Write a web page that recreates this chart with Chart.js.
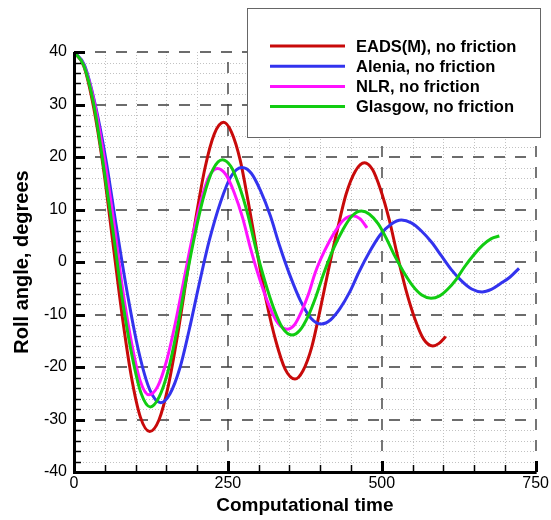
<!DOCTYPE html>
<html>
<head>
<meta charset="utf-8">
<script src="https://cdn.jsdelivr.net/npm/chart.js@4.4.1/dist/chart.umd.min.js"></script>
<style>
  html, body { margin: 0; padding: 0; background: #fff; }
</style>
</head>
<body>
<canvas id="c" width="551" height="520"></canvas>
<script>
// values (time, roll angle in degrees)
const seriesNames = ['EADS(M), no friction', 'Alenia, no friction', 'NLR, no friction', 'Glasgow, no friction'];
const seriesColors = ['#c80a0a', '#3333ee', '#ff11ff', '#11cc11'];

const eadsTime = [0,16,32,47,63,78,93,108,123,138,153,168,183,198,213,228,243,256,270,283,297,312,328,343,359,372,386,399,413,428,442,457,472,485,498,512,525,539,554,568,583,593,604];
const eadsRoll = [40,37.3,29.4,18.5,3.85,-10,-21.7,-29.6,-32.3,-30.1,-23.7,-14.1,-2.85,8.4,18,24.4,26.6,24.7,19.4,11.5,2.15,-7.2,-15.1,-20.4,-22.3,-20.7,-16.3,-9.6,-1.7,6.2,12.9,17.3,18.9,17.6,13.8,8.1,1.45,-5.2,-10.9,-14.7,-16,-15.5,-14.2];

const aleniaTime = [0,17,34,52,69,87,105,123,141,156,172,187,203,220,238,255,273,288,303,319,334,351,368,385,402,417,432,448,463,480,497,515,532,548,564,581,597,613,630,646,663,678,693,708,723];
const aleniaRoll = [40,37.5,30.2,19.4,6.6,-6.2,-17,-24.3,-26.8,-25.1,-20.2,-13,-4.4,4.2,11.4,16.3,18,16.9,13.6,8.8,3.1,-2.6,-7.4,-10.7,-11.8,-11,-8.9,-5.7,-1.9,1.9,5.1,7.2,8,7.45,5.95,3.75,1.15,-1.45,-3.65,-5.15,-5.7,-5.2,-4.1,-2.9,-1.2];

const nlrTime = [0,16,33,49,65,79,94,108,122,136,150,164,178,192,206,219,233,247,260,274,287,302,317,331,346,358,369,381,392,407,423,438,453,465,476];
const nlrRoll = [40,37.5,30.4,19.9,7.35,-5.2,-15.7,-22.8,-25.3,-23.7,-19,-12,-3.75,4.5,11.5,16.2,17.8,16.6,13.3,8.4,2.5,-3.4,-8.3,-11.6,-12.8,-12,-9.6,-6.1,-2,2.1,5.6,8,8.8,8.2,6.5];

const glasgowTime = [0,16,32,47,63,78,94,109,124,138,153,167,181,196,211,226,241,255,268,282,295,310,325,339,354,367,380,393,406,421,437,452,467,480,494,507,520,535,550,565,580,594,607,621,634,649,664,678,691];
const glasgowRoll = [40,37.4,30.1,19.1,6.2,-6.7,-17.7,-25,-27.6,-25.8,-20.7,-13.1,-4.05,5,12.6,17.7,19.5,18.2,14.6,9.2,2.8,-3.6,-9,-12.6,-13.9,-13,-10.4,-6.6,-2.1,2.4,6.2,8.8,9.7,9.1,7.3,4.6,1.4,-1.8,-4.5,-6.3,-6.9,-6.45,-5.2,-3.3,-1,1.3,3.2,4.45,4.95];

const xTicks = [0, 250, 500, 750];
const yTicks = [-40, -30, -20, -10, 0, 10, 20, 30, 40];

const FONT = '"Liberation Sans", Arial, Helvetica, sans-serif';

function pts(t, v){ return t.map((x, i) => ({ x, y: v[i] })); }

// dotted minor grid, dashed major grid, inward ticks, thick axis lines and the boxed legend
const tecplotFrame = {
  id: 'tecplotFrame',
  beforeDatasetsDraw(chart){
    const { ctx, chartArea: a, scales: { x, y } } = chart;
    ctx.save();
    ctx.strokeStyle = '#c2c2c2';
    ctx.lineWidth = 1;
    ctx.setLineDash([1, 2]);
    ctx.beginPath();
    for (let v = 50; v < 750; v += 50){
      if (v % 250 === 0) continue;
      const px = Math.round(x.getPixelForValue(v)) + 0.5;
      ctx.moveTo(px, a.top); ctx.lineTo(px, a.bottom);
    }
    for (let v = -38; v < 40; v += 2){
      if (v % 10 === 0) continue;
      const py = Math.round(y.getPixelForValue(v)) + 0.5;
      ctx.moveTo(a.left, py); ctx.lineTo(a.right, py);
    }
    ctx.stroke();

    ctx.strokeStyle = '#3c3c3c';
    ctx.lineWidth = 1.4;
    ctx.setLineDash([11, 10]);
    ctx.beginPath();
    xTicks.slice(1).forEach(v => {
      const px = Math.round(x.getPixelForValue(v));
      ctx.moveTo(px, a.bottom); ctx.lineTo(px, a.top);
    });
    yTicks.slice(1).forEach(v => {
      const py = Math.round(y.getPixelForValue(v));
      ctx.moveTo(a.left, py); ctx.lineTo(a.right, py);
    });
    ctx.stroke();
    ctx.restore();
  },
  afterDatasetsDraw(chart){
    const { ctx, chartArea: a, scales: { x, y } } = chart;
    ctx.save();
    ctx.setLineDash([]);
    ctx.strokeStyle = '#000';
    // minor ticks
    ctx.lineWidth = 1.5;
    ctx.beginPath();
    for (let v = -38; v < 40; v += 2){
      if (v % 10 === 0) continue;
      const py = Math.round(y.getPixelForValue(v)) + 0.5;
      ctx.moveTo(a.left, py); ctx.lineTo(a.left + 7, py);
    }
    for (let v = 50; v < 750; v += 50){
      if (v % 250 === 0) continue;
      const px = Math.round(x.getPixelForValue(v)) + 0.5;
      ctx.moveTo(px, a.bottom); ctx.lineTo(px, a.bottom - 7);
    }
    ctx.stroke();
    // major ticks
    ctx.lineWidth = 3;
    ctx.beginPath();
    yTicks.forEach(v => {
      const py = Math.round(y.getPixelForValue(v)) + 0.5;
      ctx.moveTo(a.left, py); ctx.lineTo(a.left + 11, py);
    });
    xTicks.forEach(v => {
      const px = Math.round(x.getPixelForValue(v)) + 0.5;
      ctx.moveTo(px, a.bottom); ctx.lineTo(px, a.bottom - 11);
    });
    ctx.stroke();
    // axis lines
    ctx.lineWidth = 3;
    ctx.beginPath();
    ctx.moveTo(a.left + 0.5, a.top);
    ctx.lineTo(a.left + 0.5, a.bottom + 0.5);
    ctx.lineTo(a.right + 1, a.bottom + 0.5);
    ctx.stroke();

    // legend box
    const bx = 247.5, by = 8.5, bw = 293, bh = 129;
    ctx.fillStyle = '#fff';
    ctx.fillRect(bx, by, bw, bh);
    ctx.strokeStyle = '#666';
    ctx.lineWidth = 1;
    ctx.strokeRect(bx, by, bw, bh);
    ctx.font = 'bold 16.5px ' + FONT;
    ctx.textBaseline = 'middle';
    ctx.textAlign = 'left';
    chart.data.datasets.forEach((ds, i) => {
      const ly = 46 + i * 20.2;
      ctx.strokeStyle = ds.borderColor;
      ctx.lineWidth = 3;
      ctx.beginPath();
      ctx.moveTo(270, ly); ctx.lineTo(345, ly);
      ctx.stroke();
      ctx.fillStyle = '#000';
      ctx.fillText(ds.label, 356, ly + 1);
    });
    ctx.restore();
  }
};

const sets = [
  [eadsTime, eadsRoll, 3],
  [aleniaTime, aleniaRoll, 2],
  [nlrTime, nlrRoll, 1],
  [glasgowTime, glasgowRoll, 0]
];

new Chart(document.getElementById('c'), {
  type: 'line',
  data: {
    datasets: sets.map(([t, v, ord], i) => ({
      label: seriesNames[i],
      data: pts(t, v),
      borderColor: seriesColors[i],
      borderWidth: 3,
      pointRadius: 0,
      fill: false,
      cubicInterpolationMode: 'monotone',
      order: ord
    }))
  },
  options: {
    responsive: false,
    animation: false,
    layout: { padding: { top: 52, right: 12, bottom: 0, left: 0 } },
    plugins: { legend: { display: false }, tooltip: { enabled: false } },
    scales: {
      x: {
        type: 'linear', min: 0, max: 750,
        afterBuildTicks: (s) => { s.ticks = xTicks.map(v => ({ value: v })); },
        ticks: { color: '#000', padding: 2, maxRotation: 0, font: { family: FONT, size: 16 } },
        grid: { display: false, drawTicks: false },
        border: { display: false },
        title: { display: true, text: 'Computational time', color: '#000',
                 font: { family: FONT, size: 19, weight: 'bold' }, padding: { top: 0, bottom: 3 } },
        afterFit: (s) => { s.height = 48; }
      },
      y: {
        type: 'linear', min: -40, max: 40,
        afterBuildTicks: (s) => { s.ticks = yTicks.map(v => ({ value: v })); },
        ticks: { color: '#000', padding: 7, font: { family: FONT, size: 16 } },
        grid: { display: false, drawTicks: false },
        border: { display: false },
        title: { display: true, text: 'Roll angle, degrees', color: '#000',
                 font: { family: FONT, size: 20, weight: 'bold' }, padding: { top: 10, bottom: 0 } },
        afterFit: (s) => { s.width = 74; }
      }
    }
  },
  plugins: [tecplotFrame]
});
</script>
</body>
</html>
